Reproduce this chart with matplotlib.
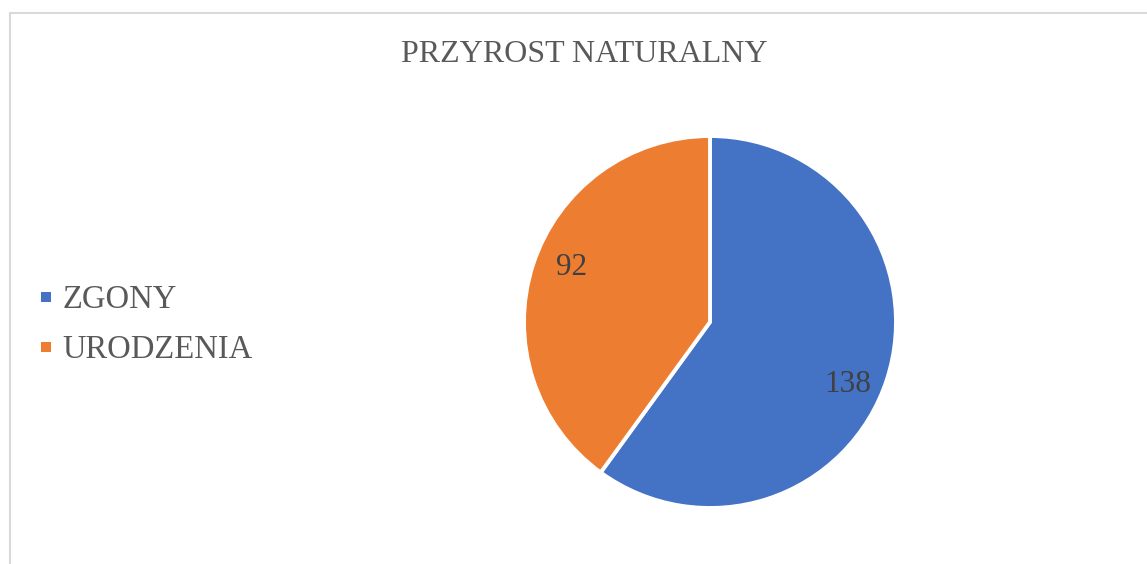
import matplotlib
matplotlib.use("Agg")
import matplotlib.pyplot as plt
import numpy as np
from matplotlib.lines import Line2D

categories = ["ZGONY", "URODZENIA"]
values = [138, 92]
colors = ["#4472C4", "#ED7D31"]
title = "PRZYROST NATURALNY"

W, H = 1147, 564
fig = plt.figure(figsize=(W / 100, H / 100), dpi=100)
plt.rcParams['font.family'] = ['Liberation Serif', 'DejaVu Serif']

# chart border (light grey frame, cropped at right/bottom)
fig.add_artist(Line2D([10 / W, 1.0], [1 - 13 / H, 1 - 13 / H], color="#d9d9d9", lw=1.5, transform=fig.transFigure))
fig.add_artist(Line2D([10 / W, 10 / W], [1 - 13 / H, 0.0], color="#d9d9d9", lw=1.5, transform=fig.transFigure))

cx, cy, r = 710, 322, 186
ax = fig.add_axes([(cx - r) / W, (H - cy - r) / H, 2 * r / W, 2 * r / H])
wedges, texts, autotexts = ax.pie(
    values, colors=colors, startangle=90, counterclock=False,
    autopct=lambda p: f"{p * sum(values) / 100:.0f}", pctdistance=0.80,
    wedgeprops=dict(edgecolor="white", linewidth=2.8),
    textprops=dict(fontsize=22.5, color="#404040"),
)
# Excel-like label placement (slightly rotated from wedge middle)
for w, t in zip(wedges, autotexts):
    ang = np.deg2rad((w.theta1 + w.theta2) / 2 - 5)
    t.set_position((0.806 * np.cos(ang), 0.806 * np.sin(ang) - 0.02))
ax.set_xlim(-1, 1)
ax.set_ylim(-1, 1)
ax.set_aspect("auto")
ax.axis("off")

fig.text((403 + 766) / 2 / W, 1 - 54 / H, title, ha="center", va="center",
         fontsize=23, color="#595959")

handles = [Line2D([], [], linestyle="none", marker="s", markersize=6.6,
                  markerfacecolor=c, markeredgewidth=0) for c in colors]
leg = fig.legend(handles, categories, loc="center left", bbox_to_anchor=(41 / W, 1 - 325 / H),
                 frameon=False, fontsize=23.5, labelcolor="#595959",
                 handlelength=0.3, handletextpad=0.35,
                 labelspacing=0.6, borderpad=0, borderaxespad=0)

fig.savefig("out.png", dpi=100, facecolor="white")
